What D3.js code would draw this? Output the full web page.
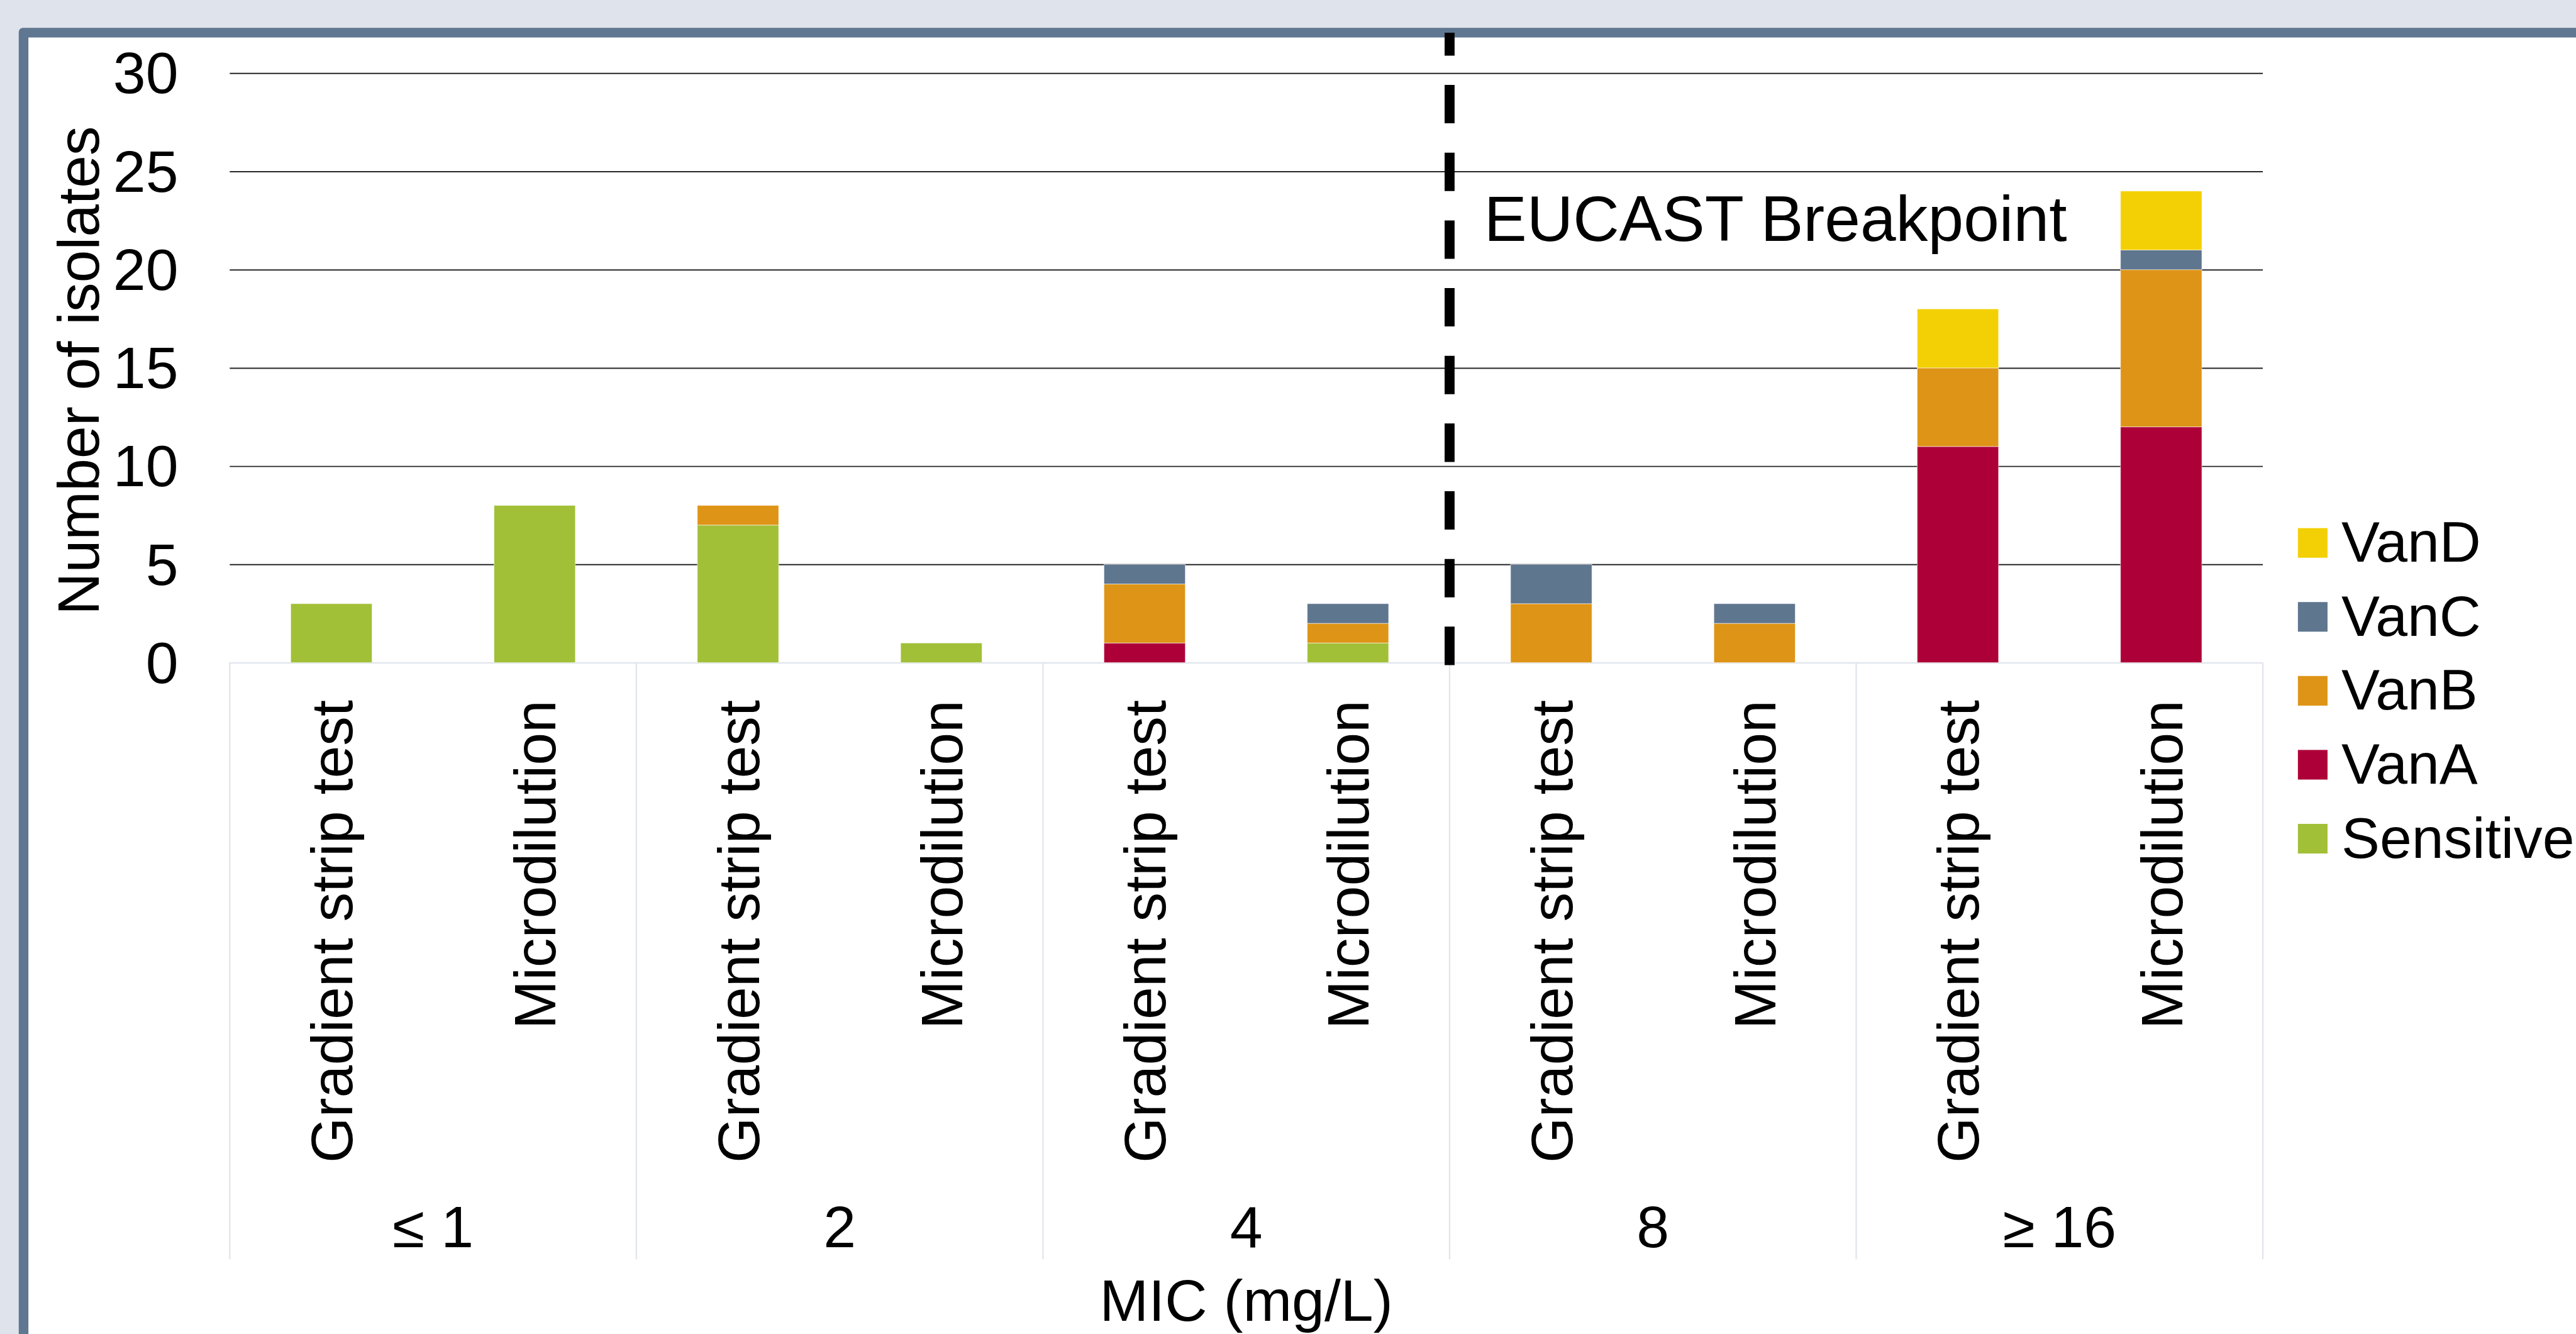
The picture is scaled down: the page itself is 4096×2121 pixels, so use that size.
<!DOCTYPE html>
<html>
<head>
<meta charset="utf-8">
<script src="https://cdn.jsdelivr.net/npm/d3@7"></script>
<style>
  html, body { margin: 0; padding: 0; background: #dfe3eb; overflow: hidden; }
  svg { display: block; }
  text { font-family: "Liberation Sans", Arial, sans-serif; fill: #000; }
</style>
</head>
<body>
<div id="chart"></div>
<script>
// categories
const groups = ["≤ 1", "2", "4", "8", "≥ 16"];
const methods = ["Gradient strip test", "Microdilution"];
const seriesNames = ["Sensitive", "VanA", "VanB", "VanC", "VanD"];

// values per bar (group x method, left to right)
const sensitive = [3, 8, 7, 1, 0, 1, 0, 0, 0, 0];
const vanA      = [0, 0, 0, 0, 1, 0, 0, 0, 11, 12];
const vanB      = [0, 0, 1, 0, 3, 1, 3, 2, 4, 8];
const vanC      = [0, 0, 0, 0, 1, 1, 2, 1, 0, 1];
const vanD      = [0, 0, 0, 0, 0, 0, 0, 0, 3, 3];

const yTicks = [0, 5, 10, 15, 20, 25, 30];
const breakpointGroup = "8"; // EUCAST breakpoint sits on the left edge of this group

const colors = {
  Sensitive: "#a1c037",
  VanA: "#ae0038",
  VanB: "#de9416",
  VanC: "#5f768f",
  VanD: "#f3d005"
};

// reference is 4261 wide, window is 4096
const W = 4261, H = 2206;
const s = 4096 / W;
const font = 97;

const plot = { left: 380, right: 3743, top: 121, bottom: 1096 };

const rows = [];
groups.forEach((g, gi) => {
  methods.forEach((m, mi) => {
    const i = gi * methods.length + mi;
    rows.push({
      group: g, method: m,
      Sensitive: sensitive[i], VanA: vanA[i], VanB: vanB[i], VanC: vanC[i], VanD: vanD[i]
    });
  });
});

const svg = d3.select("#chart").append("svg")
  .attr("width", 4096)
  .attr("height", 2121);

const root = svg.append("g").attr("transform", "scale(" + s + ")");

// backdrop + frame
root.append("rect").attr("width", W + 10).attr("height", H + 10).attr("fill", "#dfe3eb");
root.append("rect")
  .attr("x", 31).attr("y", 46).attr("rx", 7)
  .attr("width", W).attr("height", H)
  .attr("fill", "#5f7791");
root.append("rect")
  .attr("x", 47).attr("y", 62)
  .attr("width", W).attr("height", H)
  .attr("fill", "#ffffff");

const x0 = d3.scaleBand().domain(groups).range([plot.left, plot.right]).padding(0);
const x1 = d3.scaleBand().domain(methods).range([0, x0.bandwidth()])
  .paddingInner(0.6).paddingOuter(0.3);
const y = d3.scaleLinear().domain([0, 30]).range([plot.bottom, plot.top]);

// y axis with gridlines
const yAxis = root.append("g")
  .attr("transform", "translate(" + plot.left + ",0)")
  .call(d3.axisLeft(y).tickValues(yTicks).tickSize(-(plot.right - plot.left)).tickPadding(85));
yAxis.select(".domain").remove();
yAxis.selectAll(".tick line")
  .attr("stroke", d => d === 0 ? "#e2e6ec" : "#262626")
  .attr("stroke-width", d => d === 0 ? 2.5 : 2);
yAxis.selectAll(".tick text")
  .attr("font-size", font)
  .attr("font-family", "Liberation Sans, Arial, sans-serif")
  .attr("fill", "#000")
  .attr("dy", "0.34em");

// category axis separators
const bounds = groups.map(g => x0(g)).concat([plot.right]);
root.append("g").selectAll("line")
  .data(bounds)
  .join("line")
  .attr("x1", d => d).attr("x2", d => d)
  .attr("y1", plot.bottom).attr("y2", 2083)
  .attr("stroke", "#e2e6ec")
  .attr("stroke-width", 2.5);

// stacked bars
const stack = d3.stack().keys(seriesNames);
const layers = stack(rows);

root.append("g").selectAll("g")
  .data(layers)
  .join("g")
  .attr("fill", d => colors[d.key])
  .selectAll("rect")
  .data(d => d.filter(p => p[1] - p[0] > 0))
  .join("rect")
  .attr("x", d => x0(d.data.group) + x1(d.data.method))
  .attr("width", x1.bandwidth())
  .attr("y", d => y(d[1]))
  .attr("height", d => y(d[0]) - y(d[1]))
  .attr("stroke", "#ffffff")
  .attr("stroke-opacity", 0.6)
  .attr("stroke-width", 1);

// EUCAST breakpoint
const bx = x0(breakpointGroup);
root.append("line")
  .attr("x1", bx).attr("x2", bx)
  .attr("y1", 1100).attr("y2", 54)
  .attr("stroke", "#000")
  .attr("stroke-width", 16.5)
  .attr("stroke-dasharray", "63.5 48.5");

root.append("text")
  .attr("x", bx + 57)
  .attr("y", 398)
  .attr("font-size", 106)
  .text("EUCAST Breakpoint");

// method labels, rotated
root.append("g").selectAll("text")
  .data(rows)
  .join("text")
  .attr("transform", d => {
    const cx = x0(d.group) + x1(d.method) + x1.bandwidth() / 2;
    return "translate(" + cx + ",1158) rotate(-90)";
  })
  .attr("text-anchor", "end")
  .attr("dy", "0.355em")
  .attr("font-size", font)
  .text(d => d.method);

// group labels
root.append("g").selectAll("text")
  .data(groups)
  .join("text")
  .attr("x", d => x0(d) + x0.bandwidth() / 2)
  .attr("y", 2063)
  .attr("text-anchor", "middle")
  .attr("font-size", font)
  .text(d => d);

// axis titles
root.append("text")
  .attr("transform", "translate(163,613) rotate(-90)")
  .attr("text-anchor", "middle")
  .attr("font-size", font)
  .text("Number of isolates");

root.append("text")
  .attr("x", (plot.left + plot.right) / 2)
  .attr("y", 2185)
  .attr("text-anchor", "middle")
  .attr("font-size", font)
  .text("MIC (mg/L)");

// legend, top entry is VanD
const legend = root.append("g").selectAll("g")
  .data(seriesNames.slice().reverse())
  .join("g")
  .attr("transform", (d, i) => "translate(3801," + (898 + i * 122.3) + ")");

legend.append("rect")
  .attr("x", 0).attr("y", -24.5)
  .attr("width", 49).attr("height", 49)
  .attr("fill", d => colors[d]);

legend.append("text")
  .attr("x", 72)
  .attr("dy", "0.33em")
  .attr("font-size", 95)
  .text(d => d);
</script>
</body>
</html>
